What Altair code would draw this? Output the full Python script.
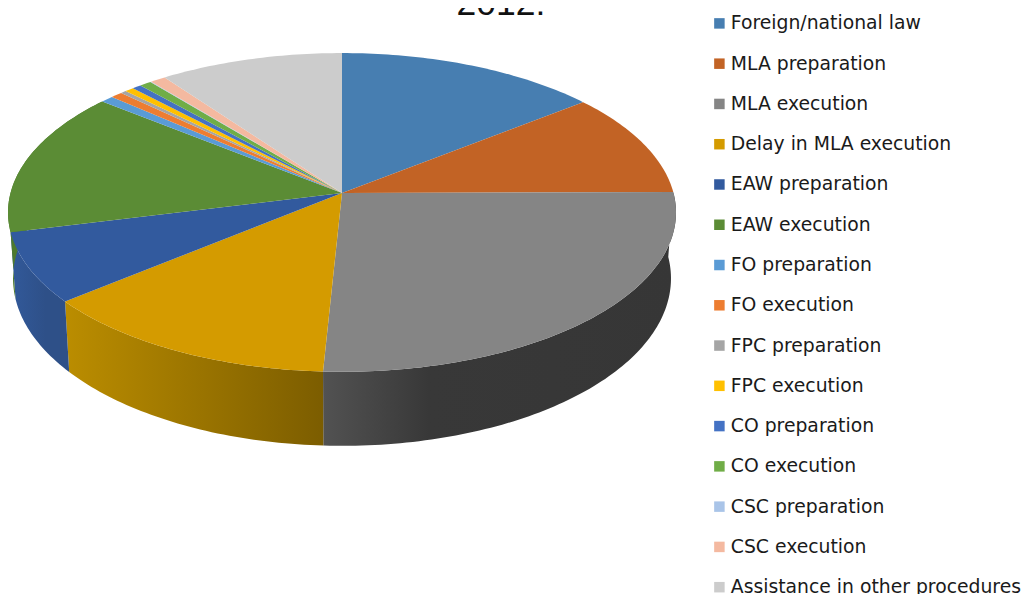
import math
import altair as alt

names = ["Foreign/national law", "MLA preparation", "MLA execution", "Delay in MLA execution",
         "EAW preparation", "EAW execution", "FO preparation", "FO execution", "FPC preparation",
         "FPC execution", "CO preparation", "CO execution", "CSC preparation", "CSC execution",
         "Assistance in other procedures"]
shares = [14.3, 10.6, 25.9, 13.2, 7.1, 14.7, 0.7, 0.65, 0.3, 0.5, 0.5, 0.65, 0.05, 0.85, 10.0]
colors = ["#477EB1", "#C26325", "#858585", "#D49B00", "#325A9E", "#5B8C35", "#5A9BD5", "#ED7D31",
          "#A5A5A5", "#FFC000", "#4472C4", "#70AD47", "#A9C4E8", "#F4B9A0", "#CCCCCC"]
wall_stops = {
    "MLA execution": [(0, "#525252"), (0.3, "#383838"), (1, "#363636")],
    "Delay in MLA execution": [(0, "#BB8D00"), (1, "#7C5D00")],
    "EAW preparation": [(0, "#32599A"), (0.6, "#2E5088"), (1, "#2E5088")],
    "EAW execution": [(0, "#4E7A2E"), (1, "#4E7A2E")],
}

# Page-to-chart offset, and the perspective ellipse of the pie's top face
OX, OY = 8, 8
CX, CY = 342 - OX, 193 - OY
A, B, K, DEPTH = 331.5, 157.0, 0.122, 74.0


def top(th):
    x, z = math.sin(th), math.cos(th)
    s = 1 / (1 + K * z)
    return CX + A * x * s, CY - B * z * s


def bottom(th):
    x, y = top(th)
    s = 1 / (1 + K * math.cos(th))
    return CX + 0.985 * (x - CX), y + DEPTH * s / (1 / (1 - K))


total = sum(shares)
edges = [0.0]
for v in shares:
    edges.append(edges[-1] + v / total * 2 * math.pi)


def span(a, b):
    n = max(2, int((b - a) / math.radians(1)) + 2)
    return [a + (b - a) * i / (n - 1) for i in range(n)]


faces, walls = [], []
for i, name in enumerate(names):
    arc = span(edges[i], edges[i + 1])
    ring = [[CX, CY]] + [list(top(t)) for t in arc] + [[CX, CY]]
    faces.append({"type": "Feature", "properties": {"name": name, "share": shares[i]},
                  "geometry": {"type": "Polygon", "coordinates": [ring]}})
    if name in wall_stops:
        ring = [list(top(t)) for t in arc] + [list(bottom(t)) for t in reversed(arc)]
        ring.append(ring[0])
        walls.append((name, {"type": "Feature", "properties": {"name": name},
                             "geometry": {"type": "Polygon", "coordinates": [ring]}}))

proj = dict(type="identity", scale=1, translate=[0, 0])
layers = []
for name, feat in walls:
    grad = alt.LinearGradient(gradient="linear", x1=0, x2=1, y1=0, y2=0,
                              stops=[alt.GradientStop(offset=o, color=c) for o, c in wall_stops[name]])
    layers.append(alt.Chart(alt.Data(values=[feat])).mark_geoshape(fill=grad, strokeWidth=0).project(**proj))

face_layer = alt.Chart(alt.Data(values=faces)).mark_geoshape(strokeWidth=0).encode(
    color=alt.Color("properties.name:N",
                    scale=alt.Scale(domain=names, range=colors),
                    sort=None,
                    legend=alt.Legend(title=None, orient="none", legendX=702, legendY=6,
                                      columns=1, symbolType="square", symbolSize=110,
                                      symbolStrokeWidth=0, labelFont="DejaVu Sans", labelFontSize=18.8,
                                      labelColor="#1a1a1a", rowPadding=20.27, labelOffset=2,
                                      labelLimit=400, symbolOpacity=1))
).project(**proj)

title = alt.Chart(alt.Data(values=[{"t": "2012:"}])).mark_text(
    font="Liberation Sans", fontSize=35.5, color="#111111", baseline="alphabetic", align="center"
).encode(text="t:N", x=alt.value(493), y=alt.value(7))

chart = alt.layer(*layers, face_layer, title).properties(
    width=1013, height=586, padding=0,
    autosize=alt.AutoSizeParams(type="none")
).configure_view(stroke=None)

chart.save("out.html", embed_options={"renderer": "svg", "actions": False})
